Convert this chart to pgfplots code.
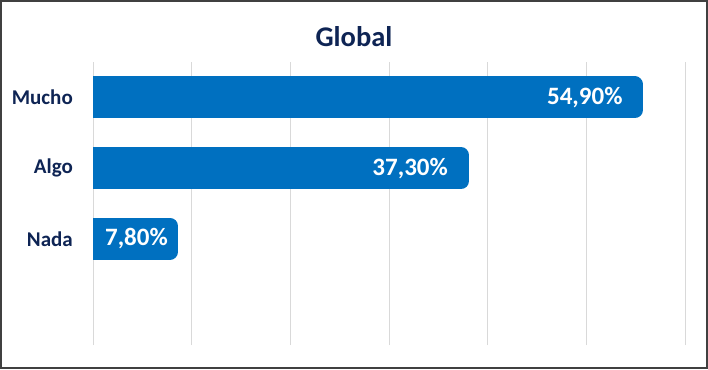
\documentclass[border=0pt]{standalone}
\usepackage{pgfplots}
\pgfplotsset{compat=1.18}
\usepackage{fontspec}
\setmainfont{Carlito}
\definecolor{barblue}{HTML}{0070C0}
\definecolor{navy}{HTML}{0E2454}
\definecolor{gridgray}{HTML}{D9D9D9}
\definecolor{framegray}{HTML}{404040}
\begin{document}
\begin{tikzpicture}[x=1pt,y=1pt]
\useasboundingbox (0,0) rectangle (708,369);
\begin{axis}[
 at={(93pt,24pt)}, anchor=south west, scale only axis,
 width=592pt, height=283pt,
 xmin=0, xmax=60, ymin=-0.5, ymax=3.5,
 xtick={0,10,...,60}, xticklabels={}, xmajorgrids,
 grid style={gridgray, line width=0.8pt},
 ytick={1,2,3}, yticklabels={Nada,Algo,Mucho},
 yticklabel style={font=\fontsize{21}{24}\selectfont\bfseries, text=navy, inner sep=0pt, xshift=-20pt},
 axis line style={draw=none}, major tick length=0pt,
 xbar, bar width=26pt, bar shift=0pt,
 nodes near coords style={text=white, font=\fontsize{25}{30}\selectfont\bfseries, anchor=east, inner sep=0pt},
]
\addplot[draw=barblue, fill=barblue, line width=16pt, line join=round] coordinates {(54.9,3) (37.3,2) (7.8,1)};
\addplot[draw=none, fill=none, nodes near coords={54,90\%}, every node near coord/.append style={xshift=-12pt}] coordinates {(54.9,3)};
\addplot[draw=none, fill=none, nodes near coords={37,30\%}, every node near coord/.append style={xshift=-13pt}] coordinates {(37.3,2)};
\addplot[draw=none, fill=none, nodes near coords={7,80\%}, every node near coord/.append style={xshift=-2pt}] coordinates {(7.8,1)};
\end{axis}
\node[font=\fontsize{28.5}{32}\selectfont\bfseries, text=navy, anchor=base] at (354,322) {Global};
\draw[framegray, line width=2pt] (1,1) rectangle (707,368);
\end{tikzpicture}
\end{document}
